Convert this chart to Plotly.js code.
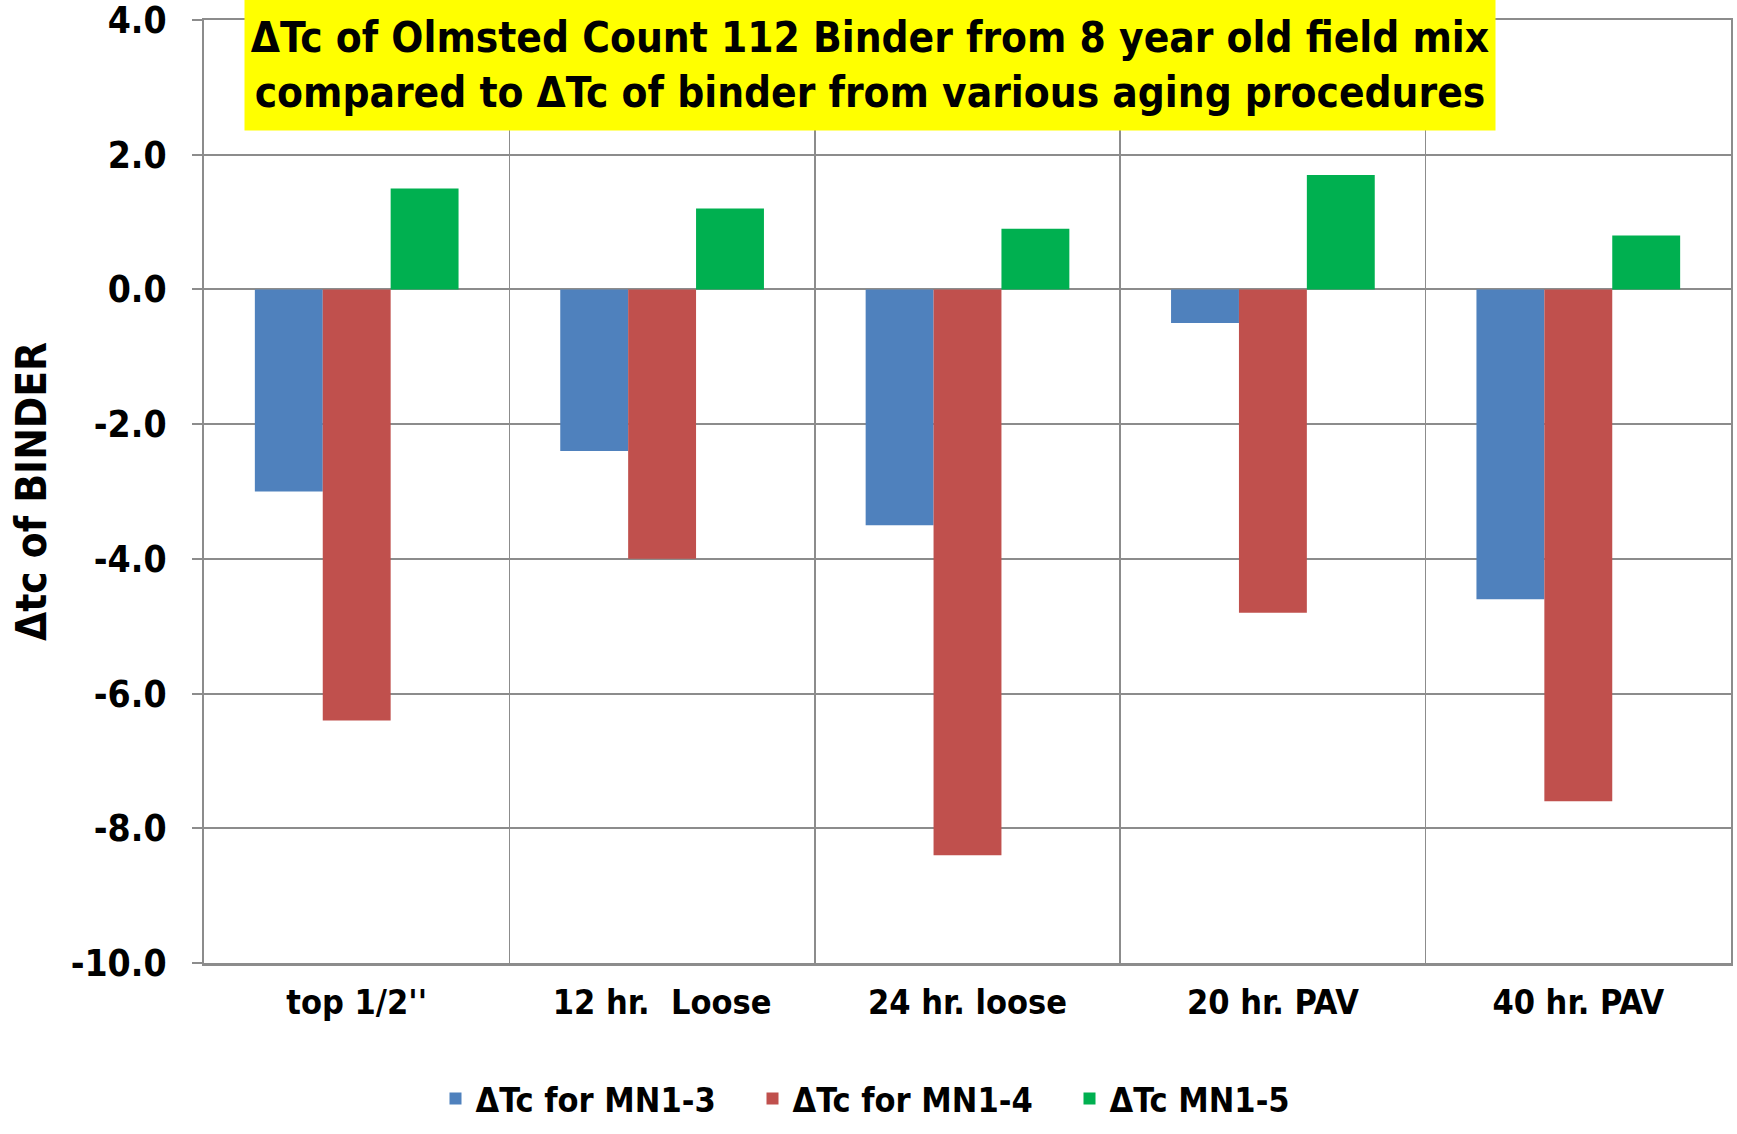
<!DOCTYPE html>
<html>
<head>
<meta charset="utf-8">
<script src="https://cdn.plot.ly/plotly-3.0.1.min.js"></script>
<style>html,body{margin:0;padding:0;background:#fff;}#chart{width:1737px;height:1134px;}</style>
</head>
<body>
<div id="chart"></div>
<script>
const categories = ["top 1/2''", "12 hr.  Loose", "24 hr. loose", "20 hr. PAV", "40 hr. PAV"];
const seriesNames = ["ΔTc for MN1-3", "ΔTc for MN1-4", "ΔTc MN1-5"];
const mn13 = [-3.0, -2.4, -3.5, -0.5, -4.6];
const mn14 = [-6.4, -4.0, -8.4, -4.8, -7.6];
const mn15 = [1.5, 1.2, 0.9, 1.7, 0.8];
const colors = ["#4F81BD", "#C0504D", "#00B050"];
const yTicks = [4, 2, 0, -2, -4, -6, -8, -10];
const yTickText = ["4.0", "2.0", "0.0", "-2.0", "-4.0", "-6.0", "-8.0", "-10.0"];

const FONT = "'Liberation Sans Narrow', 'DejaVu Sans Condensed', 'Arial Narrow', sans-serif";
const grid = "#8C8C8C";

const data = [mn13, mn14, mn15].map((vals, i) => ({
  type: "bar",
  name: seriesNames[i],
  x: categories,
  y: vals,
  marker: {color: colors[i]}
}));

const layout = {
  width: 1737,
  height: 1134,
  margin: {l: 204, r: 6, t: 20, b: 169},
  paper_bgcolor: "#fff",
  plot_bgcolor: "#fff",
  barmode: "group",
  bargap: 0.333,
  bargroupgap: 0,
  font: {family: FONT, color: "#000", size: 34},
  xaxis: {
    type: "category",
    tickson: "boundaries",
    showgrid: true,
    gridcolor: grid,
    gridwidth: 1.5,
    ticks: "",
    showline: true,
    linecolor: grid,
    linewidth: 2.5,
    mirror: true,
    tickfont: {family: FONT, size: 34, color: "#000", weight: "bold"},
    ticklabelstandoff: 8
  },
  yaxis: {
    range: [-10.0001, 4.0001],
    tickmode: "array",
    tickvals: yTicks,
    ticktext: yTickText,
    ticklabeloverflow: "allow",
    showgrid: true,
    gridcolor: grid,
    gridwidth: 2,
    zeroline: true,
    zerolinecolor: grid,
    zerolinewidth: 2,
    showline: true,
    linecolor: grid,
    linewidth: 2,
    mirror: true,
    ticks: "outside",
    ticklen: 10,
    tickwidth: 2,
    tickcolor: grid,
    ticklabelstandoff: 18,
    tickfont: {family: FONT, size: 37, color: "#000", weight: "bold"},
    title: {text: "Δtc of BINDER", font: {family: FONT, size: 42, color: "#000", weight: "bold"}, standoff: 11}
  },
  legend: {
    orientation: "h",
    x: 0.463,
    xanchor: "center",
    y: -0.144,
    yanchor: "middle",
    font: {family: FONT, size: 34, color: "#000", weight: "bold"},
    itemwidth: 30,
    entrywidth: 272,
    traceorder: "normal"
  },
  annotations: [{
    xref: "paper", yref: "paper",
    x: 0.436, y: 0.952,
    xanchor: "center", yanchor: "middle",
    showarrow: false,
    text: "ΔTc of Olmsted Count 112 Binder from 8 year old field mix<br>compared to ΔTc of binder from various aging procedures",
    bgcolor: "#FFFF00",
    width: 1244,
    height: 124,
    borderpad: 3,
    font: {family: FONT, size: 42, color: "#000", weight: "bold"}
  }]
};

Plotly.newPlot("chart", data, layout, {displayModeBar: false, staticPlot: true});
</script>
</body>
</html>
